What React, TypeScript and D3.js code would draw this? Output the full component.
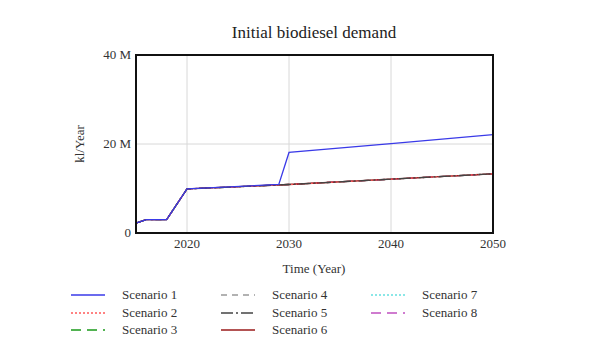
import React from 'react';
import * as d3 from 'd3';

const years1 = [2015, 2016, 2018, 2020, 2029, 2030, 2040, 2050];
const scenario1 = [2.2, 3.0, 3.0, 9.9, 10.9, 18.1, 20.1, 22.1];
const yearsBase = [2015, 2016, 2018, 2020, 2030, 2040, 2050];
const baseValues = [2.2, 3.0, 3.0, 9.9, 10.9, 12.1, 13.3];

const scenarioNames = ['Scenario 1', 'Scenario 2', 'Scenario 3', 'Scenario 4', 'Scenario 5', 'Scenario 6', 'Scenario 7', 'Scenario 8'];
const scenarioColors = ['#3a3ae8', '#ff5a5a', '#1a9a1a', '#999999', '#444444', '#9a1a1a', '#66e0e0', '#c050c0'];
const scenarioDash = ['', '2,2', '10,6', '6,5', '12,3,2,3', '', '2,2', '10,6'];

const xTicks = [2020, 2030, 2040, 2050];
const yTicks = [0, 20, 40];

const W = 601, H = 363;
const margin = { left: 136, right: 108, top: 55, bottom: 130 };
const font = "'Liberation Serif', 'Times New Roman', 'DejaVu Serif', serif";

export default function App() {
  const x = d3.scaleLinear().domain([2015, 2050]).range([margin.left, W - margin.right]);
  const y = d3.scaleLinear().domain([0, 40]).range([H - margin.bottom, margin.top]);
  const line = d3.line<[number, number]>().x(d => x(d[0])).y(d => y(d[1]));

  const series = scenarioNames.map((name, i) => {
    const pts: [number, number][] = i === 0
      ? years1.map((yr, j) => [yr, scenario1[j]])
      : yearsBase.map((yr, j) => [yr, baseValues[j]]);
    return { name, pts, color: scenarioColors[i], dash: scenarioDash[i] };
  });
  // lower line reads dark with reddish hints, early segment blue-purple
  const drawOrder = [2, 3, 6, 7, 5, 1, 4, 0];

  const legendCols = [71, 221, 371];
  const legendRows = [295, 313, 330];

  return (
    <svg width={W} height={H} style={{ position: 'absolute', left: 0, top: 0 }} fontFamily={font}>
      <rect width={W} height={H} fill="#fff" />
      <text x={314} y={38} textAnchor="middle" fontSize={17} fill="#222" fontFamily={font}>Initial biodiesel demand</text>
      {xTicks.slice(0, 3).map(t => (
        <line key={'gx' + t} x1={x(t)} x2={x(t)} y1={y(40)} y2={y(0)} stroke="#d8d8d8" strokeWidth={1} />
      ))}
      <line x1={x(2015)} x2={x(2050)} y1={y(20)} y2={y(20)} stroke="#d8d8d8" strokeWidth={1} />
      {drawOrder.map(i => (
        <path key={i} d={line(series[i].pts) || ''} fill="none" stroke={series[i].color}
          strokeWidth={1.3} strokeDasharray={series[i].dash || undefined} />
      ))}
      <rect x={x(2015)} y={y(40)} width={x(2050) - x(2015)} height={y(0) - y(40)} fill="none" stroke="#111" strokeWidth={2} />
      {yTicks.map(t => (
        <text key={'yt' + t} x={x(2015) - 5} y={y(t) + 4} textAnchor="end" fontSize={13} fill="#333" fontFamily={font}>
          {t === 0 ? '0' : `${t} M`}
        </text>
      ))}
      {xTicks.map(t => (
        <text key={'xt' + t} x={x(t)} y={y(0) + 15} textAnchor="middle" fontSize={13} fill="#333" fontFamily={font}>{t}</text>
      ))}
      <text transform={`translate(84, ${y(20)}) rotate(-90)`} textAnchor="middle" fontSize={13} fill="#333" fontFamily={font}>kl/Year</text>
      <text x={314} y={273} textAnchor="middle" fontSize={13} fill="#333" fontFamily={font}>Time (Year)</text>
      {series.map((s, i) => {
        const cx = legendCols[Math.floor(i / 3)];
        const cy = legendRows[i % 3];
        return (
          <g key={'lg' + i}>
            <line x1={cx} x2={cx + 34} y1={cy} y2={cy} stroke={s.color} strokeWidth={1.3} strokeDasharray={s.dash || undefined} />
            <text x={cx + 51} y={cy + 4} fontSize={13} fill="#333" fontFamily={font}>{s.name}</text>
          </g>
        );
      })}
    </svg>
  );
}
